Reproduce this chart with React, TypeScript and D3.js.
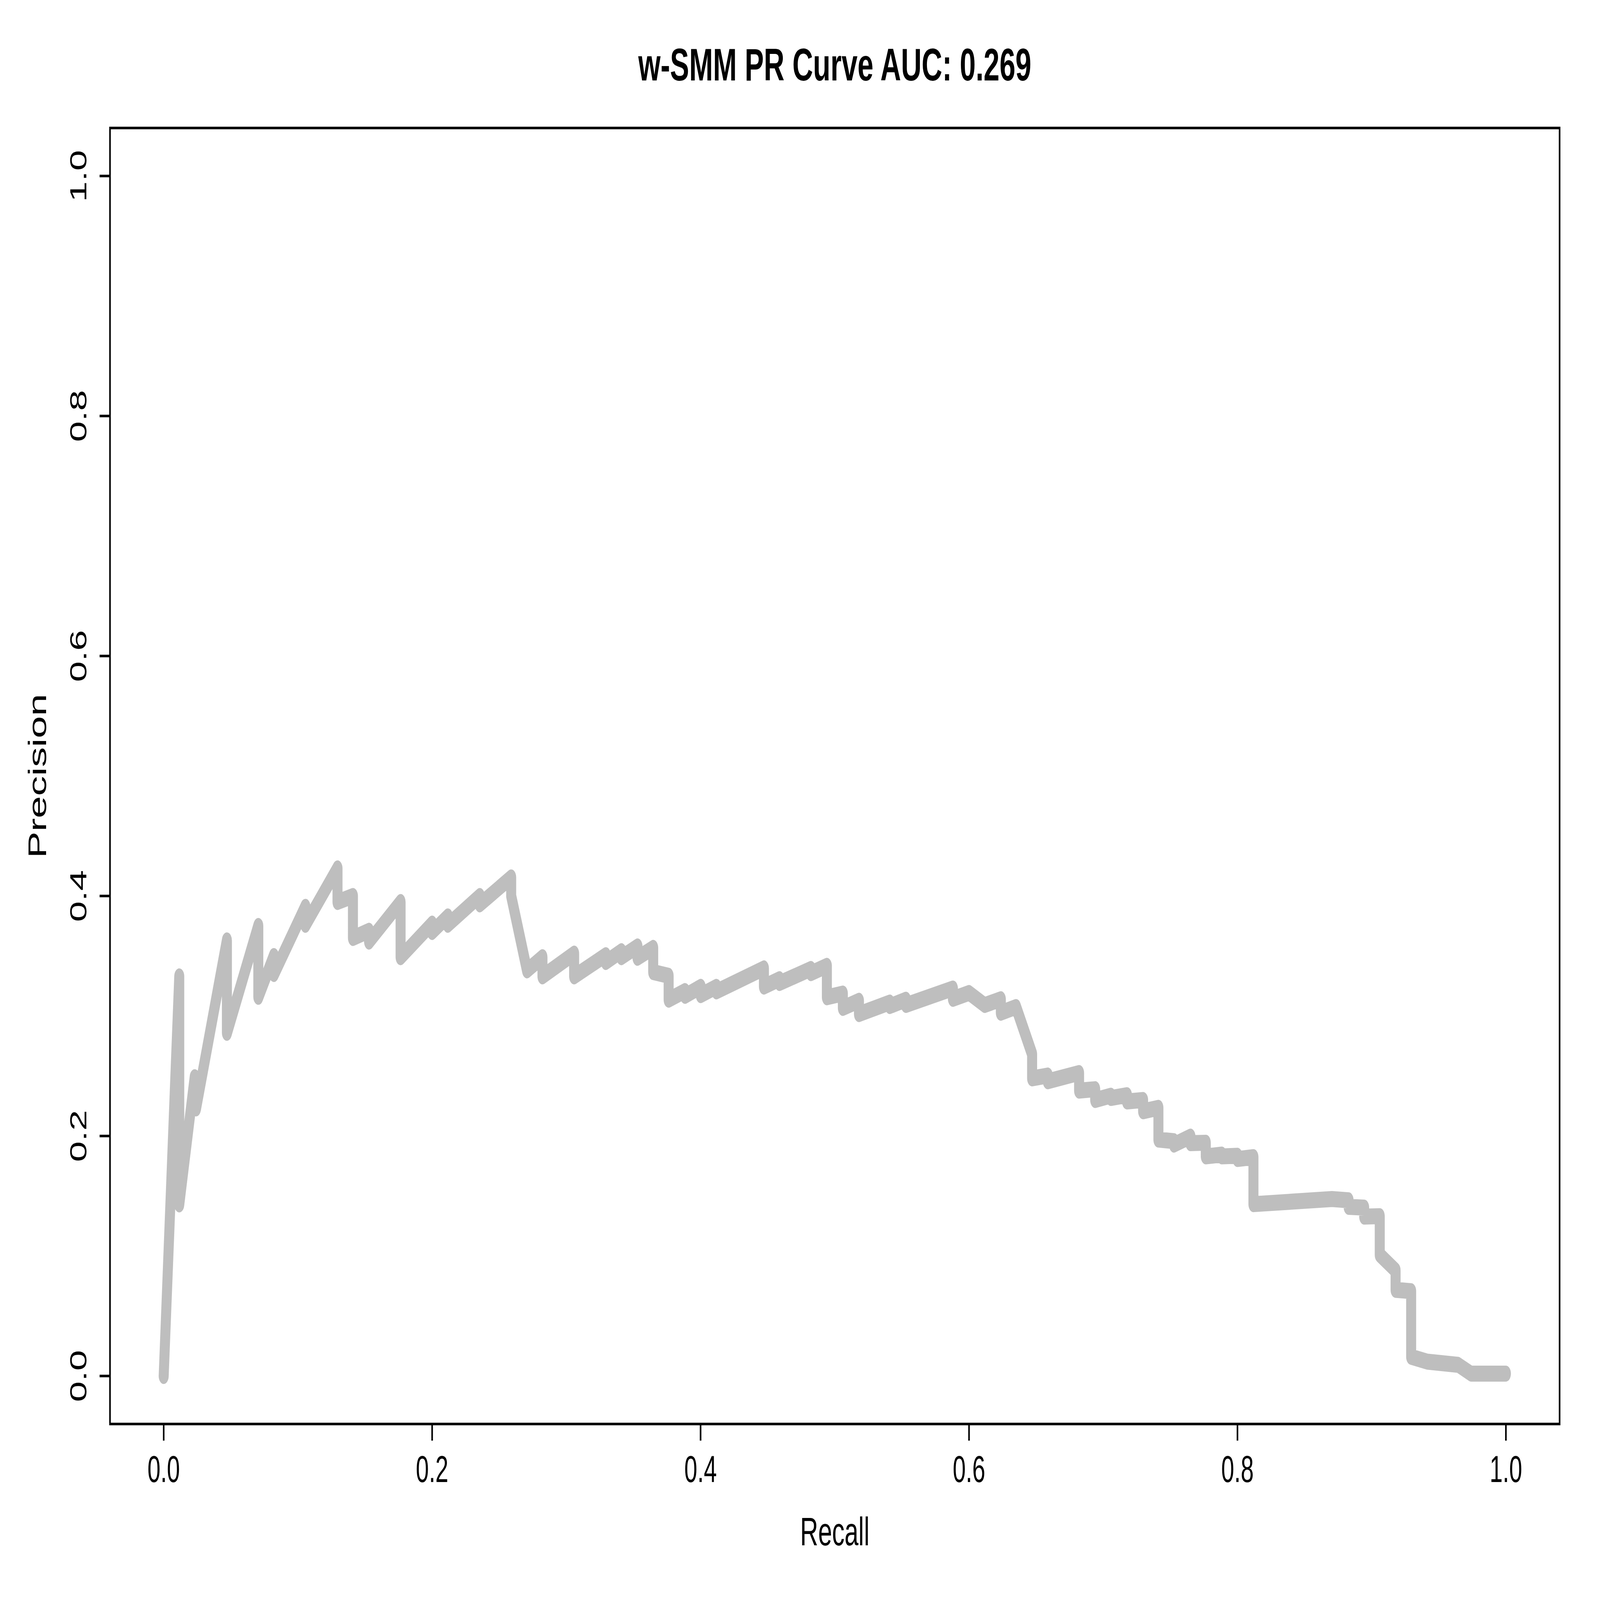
import React from 'react';
import * as d3 from 'd3';

// PR curve points (recall, precision)
const recall = [
  0, 0.0116, 0.0116, 0.0231, 0.0241, 0.0471, 0.0471, 0.0705, 0.0705, 0.0821,
  0.0821, 0.1056, 0.1056, 0.1295, 0.1295, 0.141, 0.141, 0.153, 0.153, 0.1765,
  0.1765, 0.2, 0.2, 0.2117, 0.2117, 0.2355, 0.2355, 0.2589, 0.2589, 0.2707,
  0.2822, 0.2822, 0.3058, 0.3058, 0.3294, 0.3294, 0.341, 0.341, 0.353, 0.353,
  0.3647, 0.3647, 0.3762, 0.3762, 0.3884, 0.3884, 0.4001, 0.4001, 0.4118, 0.4118,
  0.4472, 0.4472, 0.4588, 0.4588, 0.4822, 0.4822, 0.4941, 0.4941, 0.506, 0.506,
  0.518, 0.518, 0.541, 0.541, 0.553, 0.553, 0.588, 0.588, 0.6, 0.6117,
  0.6237, 0.6237, 0.635, 0.647, 0.647, 0.6587, 0.6587, 0.682, 0.682, 0.694,
  0.694, 0.7057, 0.7057, 0.7177, 0.7177, 0.7297, 0.7297, 0.7411, 0.7411, 0.7527,
  0.7527, 0.765, 0.765, 0.7764, 0.7764, 0.7883, 0.7883, 0.8, 0.8, 0.8119,
  0.8119, 0.8704, 0.8828, 0.8828, 0.8944, 0.8944, 0.906, 0.906, 0.9178, 0.9178,
  0.9294, 0.9294, 0.9413, 0.9644, 0.974, 1.0,
];

const precision = [
  0, 0.333, 0.143, 0.249, 0.223, 0.363, 0.286, 0.375, 0.316, 0.35,
  0.335, 0.391, 0.376, 0.423, 0.395, 0.4, 0.365, 0.371, 0.362, 0.395,
  0.349, 0.377, 0.37, 0.383, 0.376, 0.4, 0.393, 0.4155, 0.4, 0.338,
  0.349, 0.333, 0.352, 0.333, 0.3507, 0.345, 0.354, 0.349, 0.358, 0.3485,
  0.3568, 0.3366, 0.3335, 0.3136, 0.3208, 0.3168, 0.3243, 0.3174, 0.3243, 0.3205,
  0.3397, 0.3245, 0.3307, 0.3275, 0.3392, 0.3357, 0.3418, 0.3156, 0.3187, 0.3067,
  0.3127, 0.3016, 0.3112, 0.3083, 0.3136, 0.3092, 0.3229, 0.3143, 0.3192, 0.3092,
  0.314, 0.3027, 0.3075, 0.2683, 0.248, 0.2504, 0.2456, 0.2525, 0.2378, 0.239,
  0.23, 0.2336, 0.2317, 0.234, 0.2288, 0.23, 0.2206, 0.2235, 0.197, 0.1957,
  0.1928, 0.1995, 0.194, 0.1944, 0.183, 0.1845, 0.183, 0.1835, 0.1808, 0.1824,
  0.1432, 0.1475, 0.1464, 0.141, 0.1403, 0.1328, 0.1332, 0.101, 0.088, 0.0718,
  0.0707, 0.016, 0.012, 0.0093, 0.002, 0.002,
];

const xTicks = [0, 0.2, 0.4, 0.6, 0.8, 1.0];
const yTicks = [0, 0.2, 0.4, 0.6, 0.8, 1.0];

const chartTitle = 'w-SMM PR Curve AUC: 0.269';
const xLabel = 'Recall';
const yLabel = 'Precision';

// drawing is laid out in reference pixels, then the viewBox fits it to the window
const W = 8000;
const H = 5000;
const margin = { top: 400, right: 202, bottom: 550, left: 550 };
const font = '"Liberation Sans", Arial, Helvetica, sans-serif';

export default function App() {
  const left = margin.left;
  const right = W - margin.right;
  const top = margin.top;
  const bottom = H - margin.bottom;

  // R-style 4% padding around the data range
  const x = d3.scaleLinear().domain([-0.04, 1.04]).range([left, right]);
  const y = d3.scaleLinear().domain([-0.04, 1.04]).range([bottom, top]);

  const pts: [number, number][] = recall.map((r, i) => [r, precision[i]]);
  const line = d3.line<[number, number]>()
    .x(d => x(d[0]))
    .y(d => y(d[1]));

  const fmt = d3.format('.1f');
  const tick = 52;
  const cx = (left + right) / 2;
  const cy = (top + bottom) / 2;

  return (
    <div>
      <style>{'html, body { margin: 0; padding: 0; overflow: hidden; background: #fff; }'}</style>
      <svg
        viewBox={`0 0 ${W} ${H}`}
        preserveAspectRatio="none"
        style={{ display: 'block', width: '100vw', height: '100vh', background: '#fff' }}
        fontFamily={font}
      >
        <rect x={0} y={0} width={W} height={H} fill="#fff" />

        <path
          d={line(pts) || ''}
          fill="none"
          stroke="#bebebe"
          strokeWidth={50}
          strokeLinejoin="round"
          strokeLinecap="round"
        />

        <rect
          x={left}
          y={top}
          width={right - left}
          height={bottom - top}
          fill="none"
          stroke="#000"
          strokeWidth={8}
        />

        {xTicks.map(t => (
          <g key={'x' + t}>
            <line x1={x(t)} x2={x(t)} y1={bottom} y2={bottom + tick} stroke="#000" strokeWidth={8} />
            <text x={x(t)} y={4631} fontSize={117} textAnchor="middle" fill="#000">
              {fmt(t)}
            </text>
          </g>
        ))}

        {yTicks.map(t => (
          <g key={'y' + t}>
            <line x1={left} x2={left - tick} y1={y(t)} y2={y(t)} stroke="#000" strokeWidth={8} />
            <text
              transform={`translate(432,${y(t)}) rotate(-90)`}
              fontSize={117}
              textAnchor="middle"
              fill="#000"
            >
              {fmt(t)}
            </text>
          </g>
        ))}

        <text x={cx} y={252} fontSize={143} fontWeight="bold" textAnchor="middle" fill="#000">
          {chartTitle}
        </text>
        <text x={cx} y={4829} fontSize={125} textAnchor="middle" fill="#000">
          {xLabel}
        </text>
        <text
          transform={`translate(230,${cy}) rotate(-90)`}
          fontSize={125}
          textAnchor="middle"
          fill="#000"
        >
          {yLabel}
        </text>
      </svg>
    </div>
  );
}
